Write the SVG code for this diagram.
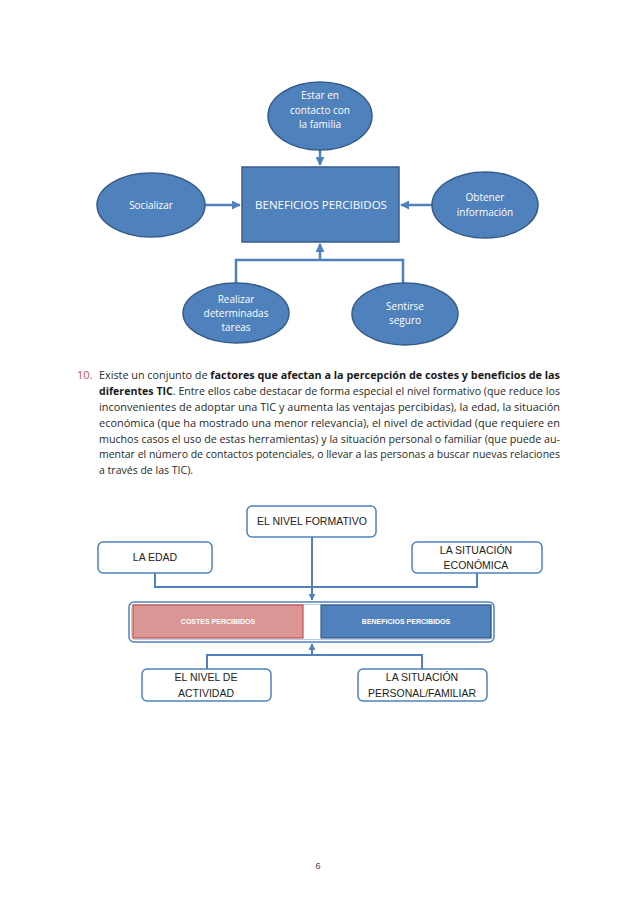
<svg xmlns="http://www.w3.org/2000/svg" width="638" height="903" viewBox="0 0 638 903">
<defs>
<marker id="ah" viewBox="0 0 10 10" refX="9" refY="5" markerWidth="3.6" markerHeight="3.6" orient="auto" markerUnits="strokeWidth">
<path d="M0,0 L10,5 L0,10 z" fill="#4f81bd"/>
</marker>
</defs>
<style>
.ell{fill:#4f81bd;stroke:#385d8a;stroke-width:1.5}
.wt{fill:#fff;font-family:"Open Sans","Liberation Sans",sans-serif;font-size:10px;text-anchor:middle}
.con{fill:none;stroke:#4f81bd;stroke-width:2.5}
.con2{fill:none;stroke:#4f81bd;stroke-width:2}
.box{fill:#fff;stroke:#4f81bd;stroke-width:1.5}
.bt{fill:#222;font-family:"Liberation Sans",sans-serif;font-size:10.5px;text-anchor:middle}
.para{font-family:"Open Sans","Liberation Sans",sans-serif;font-size:11px;fill:#2a2a2a}
.b{font-weight:bold;fill:#1a1a1a}
.small{fill:#fff;font-family:"Liberation Sans",sans-serif;font-size:7px;font-weight:bold;text-anchor:middle}
</style>
<rect width="638" height="903" fill="#fff"/>

<g id="connectors">
<path class="con" d="M320,150 V165" marker-end="url(#ah)"/>
<path class="con" d="M205,205 H240" marker-end="url(#ah)"/>
<path class="con" d="M432,205 H401" marker-end="url(#ah)"/>
<path class="con" d="M236,284 V260 H403 V287"/>
<path class="con" d="M320,260 V244" marker-end="url(#ah)"/>
<path class="con2" d="M155,573 V587 H477 V573"/>
<path class="con2" d="M312,537 V600" marker-end="url(#ah)"/>
<path class="con2" d="M207,669 V655 H422 V669"/>
<path class="con2" d="M312,655 V644" marker-end="url(#ah)"/>
</g>

<g id="n-estar">
<ellipse class="ell" cx="320" cy="116" rx="52" ry="34"/>
<text class="wt" x="320" y="99">Estar  en</text>
<text class="wt" x="320" y="114">contacto con</text>
<text class="wt" x="320" y="128">la familia</text>
</g>
<g id="n-beneficios">
<rect x="242" y="167" width="157" height="75" fill="#4f81bd" stroke="#385d8a" stroke-width="1.5"/>
<text class="wt" x="321" y="209" font-size="11.5" style="font-size:11.5px">BENEFICIOS PERCIBIDOS</text>
</g>
<g id="n-socializar">
<ellipse class="ell" cx="151" cy="205" rx="54" ry="32"/>
<text class="wt" x="151" y="209">Socializar</text>
</g>
<g id="n-obtener">
<ellipse class="ell" cx="485" cy="205" rx="53" ry="33"/>
<text class="wt" x="485" y="201">Obtener</text>
<text class="wt" x="485" y="216">información</text>
</g>
<g id="n-realizar">
<ellipse class="ell" cx="236" cy="313" rx="53" ry="30"/>
<text class="wt" x="236" y="303">Realizar</text>
<text class="wt" x="236" y="317">determinadas</text>
<text class="wt" x="236" y="331">tareas</text>
</g>
<g id="n-sentirse">
<ellipse class="ell" cx="405" cy="314" rx="53" ry="31"/>
<text class="wt" x="405" y="310">Sentirse</text>
<text class="wt" x="405" y="324">seguro</text>
</g>

<g id="paragraph">
<text class="para" x="77" y="379" style="fill:#c0504d">10.</text>
<text class="para" x="99" y="379" textLength="461" lengthAdjust="spacingAndGlyphs">Existe un conjunto de <tspan class="b">factores que afectan a la percepción de costes y beneficios de las</tspan></text>
<text class="para" x="99" y="395" textLength="461" lengthAdjust="spacingAndGlyphs"><tspan class="b">diferentes TIC</tspan>. Entre ellos cabe destacar de forma especial el nivel formativo (que reduce los</text>
<text class="para" x="99" y="411" textLength="461" lengthAdjust="spacingAndGlyphs">inconvenientes de adoptar una TIC y aumenta las ventajas percibidas), la edad, la situación</text>
<text class="para" x="99" y="427" textLength="461" lengthAdjust="spacingAndGlyphs">económica (que ha mostrado una menor relevancia), el nivel de actividad (que requiere en</text>
<text class="para" x="99" y="443" textLength="461" lengthAdjust="spacingAndGlyphs">muchos casos el uso de estas herramientas) y la situación personal o familiar (que puede au-</text>
<text class="para" x="99" y="458" textLength="461" lengthAdjust="spacingAndGlyphs">mentar el número de contactos potenciales, o llevar a las personas a buscar nuevas relaciones</text>
<text class="para" x="99" y="474" textLength="94" lengthAdjust="spacingAndGlyphs">a través de las TIC).</text>
</g>

<g id="n-formativo">
<rect class="box" x="247" y="506" width="129" height="31" rx="5"/>
<text class="bt" x="312" y="525">EL NIVEL FORMATIVO</text>
</g>
<g id="n-edad">
<rect class="box" x="98" y="542" width="114" height="31" rx="5"/>
<text class="bt" x="155" y="561">LA EDAD</text>
</g>
<g id="n-economica">
<rect class="box" x="412" y="542" width="130" height="31" rx="5"/>
<text class="bt" x="476" y="554">LA SITUACIÓN</text>
<text class="bt" x="476" y="569">ECONÓMICA</text>
</g>
<g id="n-contenedor">
<rect x="129" y="602" width="365" height="40" rx="5" fill="#fff" stroke="#4f81bd" stroke-width="1.5"/>
<rect x="131.5" y="604.5" width="360" height="35" rx="3" fill="none" stroke="#b9cde5" stroke-width="1"/>
</g>
<g id="n-costes">
<rect x="133" y="605" width="170" height="33" fill="#d99694" stroke="#c0504d" stroke-width="1.2"/>
<text class="small" x="218" y="624">COSTES PERCIBIDOS</text>
</g>
<g id="n-beneficios2">
<rect x="321" y="605" width="170" height="33" fill="#4f81bd" stroke="#385d8a" stroke-width="1.2"/>
<text class="small" x="406" y="624">BENEFICIOS PERCIBIDOS</text>
</g>
<g id="n-actividad">
<rect class="box" x="142" y="669" width="129" height="32" rx="5"/>
<text class="bt" x="206" y="681">EL NIVEL DE</text>
<text class="bt" x="206" y="697">ACTIVIDAD</text>
</g>
<g id="n-personal">
<rect class="box" x="358" y="669" width="129" height="32" rx="5"/>
<text class="bt" x="422" y="681">LA SITUACIÓN</text>
<text class="bt" x="422" y="697">PERSONAL/FAMILIAR</text>
</g>

<text x="318" y="869" font-family="Liberation Sans, sans-serif" font-size="9" fill="#444" text-anchor="middle">6</text>
</svg>
